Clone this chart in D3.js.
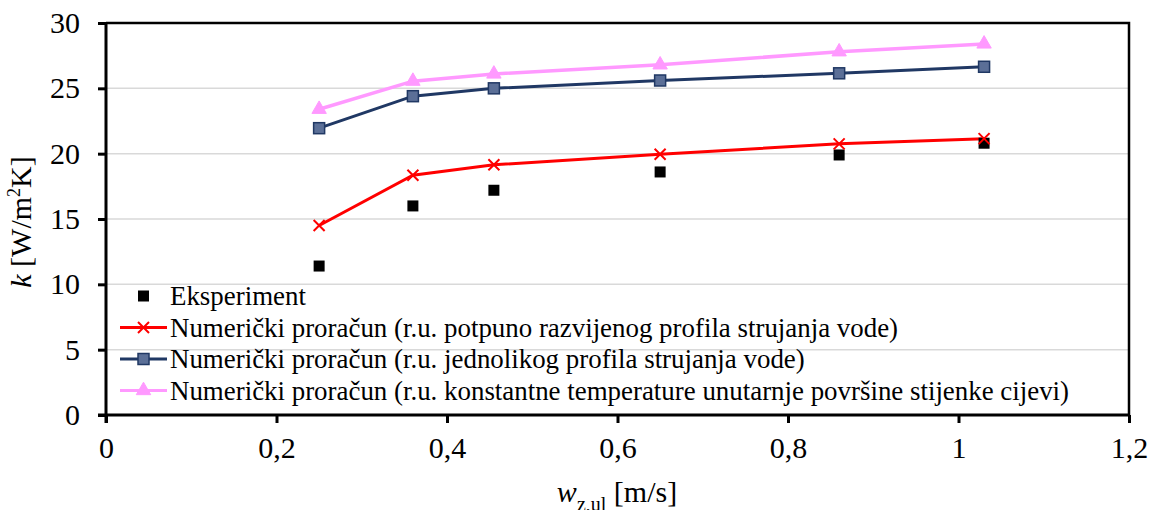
<!DOCTYPE html>
<html>
<head>
<meta charset="utf-8">
<script src="https://cdn.jsdelivr.net/npm/d3@7"></script>
<style>
  body { margin: 0; background: #fff; }
  svg, svg text { font-family: "Liberation Serif", "Times New Roman", Times, "DejaVu Serif", serif; }
</style>
</head>
<body>
<div id="chart"></div>
<script>
// podaci s grafa
var brzine = [0.25, 0.36, 0.455, 0.65, 0.86, 1.03];
var eksperiment = [11.4, 16.0, 17.2, 18.6, 19.9, 20.8];
var razvijeni = [14.5, 18.35, 19.15, 19.95, 20.75, 21.15];
var jednoliki = [21.95, 24.4, 25.0, 25.6, 26.15, 26.65];
var konstTemp = [23.4, 25.55, 26.1, 26.8, 27.8, 28.4];
var xTicks = [0, 0.2, 0.4, 0.6, 0.8, 1, 1.2];
var yTicks = [0, 5, 10, 15, 20, 25, 30];
var legendaTekst = [
  "Eksperiment",
  "Numerički proračun (r.u. potpuno razvijenog profila strujanja vode)",
  "Numerički proračun (r.u. jednolikog profila strujanja vode)",
  "Numerički proračun (r.u. konstantne temperature unutarnje površine stijenke cijevi)"
];

var FONT = "'Liberation Serif', 'Times New Roman', Times, 'DejaVu Serif', serif";
var svgWidth = 1154, svgHeight = 510;
var margin = { top: 23, right: 25, bottom: 95, left: 106 };
var width = svgWidth - margin.left - margin.right;
var height = svgHeight - margin.top - margin.bottom;

var svg = d3.select("#chart").append("svg")
    .attr("width", svgWidth)
    .attr("height", svgHeight)
    .attr("font-family", FONT);

var g = svg.append("g")
    .attr("transform", "translate(" + margin.left + "," + margin.top + ")");

var x = d3.scaleLinear().domain([0, 1.2]).range([0, width]);
var y = d3.scaleLinear().domain([0, 30]).range([height, 0]);

// mreža
g.selectAll(".grid").data(yTicks.slice(1, -1)).enter().append("line")
    .attr("x1", 0).attr("x2", width)
    .attr("y1", d => y(d)).attr("y2", d => y(d))
    .attr("stroke", "#d9d9d9").attr("stroke-width", 1.5);

// okvir gore i desno
g.append("path")
    .attr("d", "M0," + y(30) + "H" + width + "V" + height)
    .attr("fill", "none").attr("stroke", "#000").attr("stroke-width", 2.5);

// osi
var fmt = d => String(d).replace(".", ",");
var xAxis = g.append("g")
    .attr("transform", "translate(0," + height + ")")
    .call(d3.axisBottom(x).tickValues(xTicks).tickFormat(fmt).tickSizeOuter(0).tickSize(8).tickPadding(14));
var yAxis = g.append("g")
    .call(d3.axisLeft(y).tickValues(yTicks).tickSizeOuter(0).tickSize(8).tickPadding(18));
[xAxis, yAxis].forEach(function (a) {
    a.attr("font-family", FONT).attr("font-size", 30);
    a.select(".domain").attr("stroke-width", 3);
    a.selectAll(".tick line").attr("stroke-width", 3);
    a.selectAll("text").attr("fill", "#000");
});
xAxis.select(".domain").attr("d", "M-8,0H" + width);
yAxis.select(".domain").attr("d", "M0,0V" + (height + 8));

// linije
var linija = d3.line()
    .x((d, i) => x(brzine[i]))
    .y(d => y(d));

var serije = [
  { vals: razvijeni, color: "#ff0000", w: 3 },
  { vals: jednoliki, color: "#203864", w: 3 },
  { vals: konstTemp, color: "#ff99ff", w: 3.5 }
];
serije.forEach(function (s) {
    g.append("path").datum(s.vals)
        .attr("d", linija)
        .attr("fill", "none")
        .attr("stroke", s.color)
        .attr("stroke-width", s.w);
});

// markeri
function marker(sel, tip) {
    if (tip === 0) {
        sel.append("rect").attr("x", -5.5).attr("y", -5.5).attr("width", 11).attr("height", 11)
            .attr("fill", "#000");
    } else if (tip === 1) {
        sel.append("path").attr("d", "M-5.5,-5.5L5.5,5.5M-5.5,5.5L5.5,-5.5")
            .attr("stroke", "#ff0000").attr("stroke-width", 2);
    } else if (tip === 2) {
        sel.append("rect").attr("x", -5.5).attr("y", -5.5).attr("width", 11).attr("height", 11)
            .attr("fill", "#5b6f97").attr("stroke", "#203864").attr("stroke-width", 1.5);
    } else {
        sel.append("path").attr("d", d3.symbol(d3.symbolTriangle, 90)())
            .attr("fill", "#ff99ff").attr("stroke", "#ff99ff").attr("stroke-width", 1);
    }
}

[eksperiment, razvijeni, jednoliki, konstTemp].forEach(function (vals, k) {
    g.selectAll(".m" + k).data(vals).enter().append("g")
        .attr("transform", (d, i) => "translate(" + x(brzine[i]) + "," + y(d) + ")")
        .each(function () { marker(d3.select(this), k); });
});

// legenda
var boje = [null, "#ff0000", "#203864", "#ff99ff"];
var leg = svg.append("g").attr("transform", "translate(120,296)");
legendaTekst.forEach(function (t, k) {
    var row = leg.append("g").attr("transform", "translate(0," + (k * 31.5) + ")");
    if (boje[k]) {
        row.append("line").attr("x1", 0).attr("x2", 47)
            .attr("stroke", boje[k]).attr("stroke-width", 3);
    }
    var m = row.append("g").attr("transform", "translate(23.5,0)");
    marker(m, k);
    row.append("text").attr("x", 50).attr("y", 9)
        .attr("font-size", 26.9).attr("fill", "#000")
        .text(t);
});

// naslovi osi
var yl = svg.append("text")
    .attr("transform", "translate(31,222) rotate(-90)")
    .attr("text-anchor", "middle")
    .attr("font-size", 30);
yl.append("tspan").attr("font-style", "italic").text("k");
yl.append("tspan").text(" [W/m");
yl.append("tspan").attr("font-size", 18).attr("dy", -11).text("2");
yl.append("tspan").attr("dy", 11).text("K]");

var xl = svg.append("text")
    .attr("x", 617).attr("y", 502)
    .attr("text-anchor", "middle")
    .attr("font-size", 30);
xl.append("tspan").attr("font-style", "italic").text("w");
xl.append("tspan").attr("font-size", 20).attr("dy", 9).text("z,ul");
xl.append("tspan").attr("dy", -9).text(" [m/s]");
</script>
</body>
</html>
